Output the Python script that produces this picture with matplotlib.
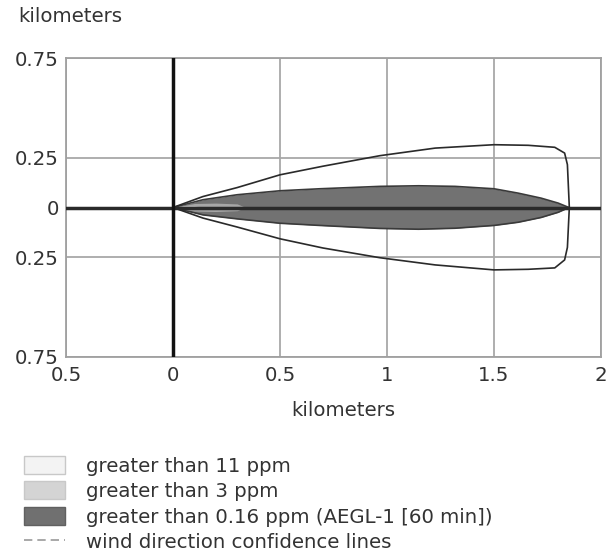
import matplotlib
matplotlib.use("Agg")
import matplotlib.pyplot as plt
from matplotlib.patches import Patch
from matplotlib.lines import Line2D

plt.rcParams['font.family'] = ['DejaVu Sans']

# ---- data (kilometers) ----
x_ticks = [-0.5, 0, 0.5, 1, 1.5, 2]
x_tick_labels = ["0.5", "0", "0.5", "1", "1.5", "2"]
y_ticks = [-0.75, -0.25, 0, 0.25, 0.75]
y_tick_labels = ["0.75", "0.25", "0", "0.25", "0.75"]

# wind direction confidence outline
conf_x = [0, 0.14, 0.3, 0.5, 0.7, 0.967, 1.225, 1.5, 1.66, 1.784, 1.83, 1.843]
conf_upper = [0, 0.055, 0.1, 0.164, 0.207, 0.26, 0.298, 0.315, 0.312, 0.302, 0.273, 0.215]
conf_lower = [0, -0.053, -0.098, -0.157, -0.203, -0.252, -0.288, -0.313, -0.31, -0.303, -0.263, -0.2]
conf_tip_x = 1.852

# > 0.16 ppm plume (AEGL-1)
plume_x = [0, 0.14, 0.3, 0.5, 0.687, 0.967, 1.148, 1.318, 1.5, 1.613, 1.72, 1.8, 1.85]
plume_upper = [0, 0.039, 0.064, 0.084, 0.094, 0.106, 0.109, 0.106, 0.094, 0.072, 0.047, 0.022, 0]
plume_lower = [0, -0.037, -0.057, -0.079, -0.09, -0.105, -0.109, -0.104, -0.09, -0.074, -0.05, -0.024, 0]

# > 3 ppm
p3_x = [0, 0.1, 0.2, 0.3, 0.34]
p3_upper = [0, 0.02, 0.022, 0.018, 0]
p3_lower = [0, -0.018, -0.02, -0.016, 0]

# > 11 ppm
p11_x = [0, 0.05, 0.1, 0.15]
p11_upper = [0, 0.008, 0.008, 0]
p11_lower = [0, -0.006, -0.006, 0]

legend_labels = ["greater than 11 ppm", "greater than 3 ppm",
                 "greater than 0.16 ppm (AEGL-1 [60 min])",
                 "wind direction confidence lines"]

FS = 14.2
TXT = '#333333'

# ---- figure ----
fig = plt.figure(figsize=(6.16, 5.57), dpi=100)
ax = fig.add_axes([66/616, 1-357/557, (601-66)/616, (357-58)/557])

ax.set_xlim(-0.5, 2)
ax.set_ylim(-0.75, 0.75)
ax.set_xticks(x_ticks)
ax.set_xticklabels(x_tick_labels)
ax.set_yticks(y_ticks)
ax.set_yticklabels(y_tick_labels)
ax.tick_params(length=0, labelsize=FS, colors=TXT, pad=5)
ax.tick_params(axis='x', pad=6.5)
ax.grid(True, color='#a8a8a8', lw=1.3)
ax.set_axisbelow(True)
for s in ax.spines.values():
    s.set_color('#a0a0a0')
    s.set_linewidth(1.3)

# plume
ax.fill_between(plume_x, plume_lower, plume_upper, color='#727272', lw=0, zorder=2)
ax.plot(plume_x, plume_upper, color='#3a3a3a', lw=1.2, zorder=3)
ax.plot(plume_x, plume_lower, color='#3a3a3a', lw=1.2, zorder=3)
ax.fill_between(p3_x, p3_lower, p3_upper, color='#d4d4d4', alpha=0.55, lw=0, zorder=3)
ax.fill_between(p11_x, p11_lower, p11_upper, color='#f2f2f2', alpha=0.55, lw=0, zorder=3)

# confidence outline
cx = list(conf_x) + [conf_tip_x] + list(conf_x[::-1])
cy = list(conf_upper) + [0] + list(conf_lower[::-1])
ax.plot(cx, cy, color='#2a2a2a', lw=1.2, zorder=4, solid_joinstyle='round')

# axes lines
ax.axhline(0, color='#2a2a2a', lw=2.5, zorder=5)
ax.axvline(0, color='#111111', lw=2.5, zorder=5)

fig.text(18/616, 1-17/557, "kilometers", fontsize=FS, color=TXT, va='center', ha='left')
fig.text(343/616, 1-410/557, "kilometers", fontsize=FS, color=TXT, va='center', ha='center')

handles = [Patch(facecolor='#f3f3f3', edgecolor='#c8c8c8'),
           Patch(facecolor='#d4d4d4', edgecolor='#c8c8c8'),
           Patch(facecolor='#707070', edgecolor='#606060'),
           Line2D([0], [0], color='#999999', lw=1.2, ls=(0, (5, 3)))]
fig.legend(handles, legend_labels, loc='upper left', bbox_to_anchor=(24/616, 1-456/557),
           frameon=False, fontsize=FS, handlelength=2.1, handleheight=1.0,
           handletextpad=1.05, labelspacing=0.3, borderpad=0, borderaxespad=0,
           labelcolor=TXT)

fig.savefig("out.png", dpi=100)
